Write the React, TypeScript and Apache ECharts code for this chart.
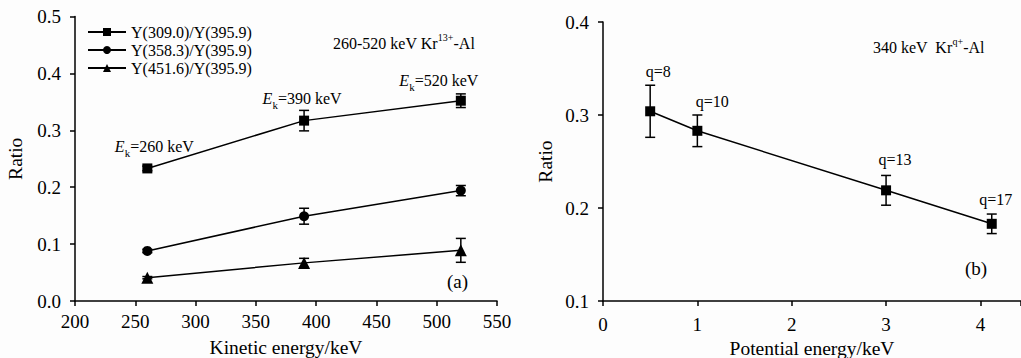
import React, { useEffect, useRef } from "react";
import * as echarts from "echarts";

// ---- Panel (a): ratio vs kinetic energy ----
const kineticEnergies = [260, 390, 520];
const ratio309 = [0.233, 0.317, 0.352];
const ratio309Err = [0.004, 0.018, 0.012];
const ratio358 = [0.088, 0.149, 0.194];
const ratio358Err = [0.003, 0.014, 0.009];
const ratio451 = [0.041, 0.067, 0.089];
const ratio451Err = [0.002, 0.008, 0.021];
const seriesNamesA = ["Y(309.0)/Y(395.9)", "Y(358.3)/Y(395.9)", "Y(451.6)/Y(395.9)"];
const ekLabels = ["260 keV", "390 keV", "520 keV"];

// ---- Panel (b): ratio vs potential energy ----
const potentialEnergies = [0.5, 1.0, 3.0, 4.12];
const ratioQ = [0.304, 0.283, 0.219, 0.183];
const ratioQErr = [0.028, 0.017, 0.016, 0.0105];
const qLabels = ["q=8", "q=10", "q=13", "q=17"];

const FONT = "Liberation Serif";
const BLACK = "#000";

function errRender(params: any, api: any) {
  const x = api.value(0);
  const y = api.value(1);
  const e = api.value(2);
  const top = api.coord([x, y + e]);
  const bot = api.coord([x, y - e]);
  const w = 5;
  const st = { stroke: BLACK, lineWidth: 1.5 };
  return {
    type: "group",
    children: [
      { type: "line", shape: { x1: top[0], y1: top[1], x2: bot[0], y2: bot[1] }, style: st },
      { type: "line", shape: { x1: top[0] - w, y1: top[1], x2: top[0] + w, y2: top[1] }, style: st },
      { type: "line", shape: { x1: bot[0] - w, y1: bot[1], x2: bot[0] + w, y2: bot[1] }, style: st },
    ],
  };
}

const axisCommon = {
  axisLine: { onZero: false, lineStyle: { color: BLACK, width: 1.5 } },
  axisTick: { show: true, inside: false, length: 5, lineStyle: { color: BLACK, width: 1.5 } },
  splitLine: { show: false },
  nameTextStyle: { color: BLACK, fontFamily: FONT, fontSize: 19.5 },
};

const labelCommon = { color: BLACK, fontFamily: FONT, fontSize: 19 };

const richText = {
  i: { fontStyle: "italic", fontFamily: FONT, fontSize: 16, color: BLACK, lineHeight: 24 },
  sub: { fontFamily: FONT, fontSize: 11, color: BLACK, verticalAlign: "bottom", lineHeight: 24 },
  n: { fontFamily: FONT, fontSize: 16, color: BLACK, lineHeight: 24 },
  sup: { fontFamily: FONT, fontSize: 10, color: BLACK, verticalAlign: "top", lineHeight: 22 },
  m: { fontFamily: FONT, fontSize: 16, color: BLACK, lineHeight: 22 },
};

const ekOffsets = [
  [7, -22],
  [-2, -22],
  [-22, -20],
];
const qOffsets = [
  [8, -40],
  [15, -29],
  [9, -31],
  [4, -24],
];

function lineSeries(name: string, xs: number[], ys: number[], symbol: string, size: number, xi: number) {
  return {
    type: "line",
    name,
    xAxisIndex: xi,
    yAxisIndex: xi,
    data: xs.map((x, i) => [x, ys[i]]),
    symbol,
    symbolSize: size,
    showAllSymbol: true,
    lineStyle: { color: BLACK, width: 1.5 },
    itemStyle: { color: BLACK, borderWidth: 0 },
    z: 3,
  };
}

function errSeries(name: string, xs: number[], ys: number[], es: number[], xi: number) {
  return {
    type: "custom",
    name,
    xAxisIndex: xi,
    yAxisIndex: xi,
    renderItem: errRender,
    encode: { x: 0, y: 1 },
    data: xs.map((x, i) => [x, ys[i], es[i]]),
    z: 2,
  };
}

export default function App() {
  const ref = useRef<HTMLDivElement>(null);
  useEffect(() => {
    document.body.style.margin = "0";
    if (!ref.current) return;
    const chart = echarts.init(ref.current, null, { renderer: "svg" });

    const s1 = lineSeries(seriesNamesA[0], kineticEnergies, ratio309, "rect", 10, 0) as any;
    s1.data = kineticEnergies.map((x, i) => ({
      value: [x, ratio309[i]],
      label: {
        show: true,
        position: "inside",
        offset: ekOffsets[i],
        formatter: `{i|E}{sub|k}{n|=${ekLabels[i]}}`,
        rich: richText,
      },
    }));

    const sQ = lineSeries("q", potentialEnergies, ratioQ, "rect", 10, 1) as any;
    sQ.data = potentialEnergies.map((x, i) => ({
      value: [x, ratioQ[i]],
      label: {
        show: true,
        position: "inside",
        offset: qOffsets[i],
        formatter: qLabels[i],
        color: BLACK,
        fontFamily: FONT,
        fontSize: 16,
      },
    }));

    chart.setOption({
      animation: false,
      backgroundColor: "#fdfdfd",
      textStyle: { fontFamily: FONT },
      grid: [
        { left: 75, top: 16.5, width: 422, height: 284.5, containLabel: false, outerBoundsMode: "none" },
        { left: 603, top: 22, width: 418, height: 279, containLabel: false, outerBoundsMode: "none" },
      ],
      xAxis: [
        {
          ...axisCommon,
          gridIndex: 0,
          type: "value",
          min: 200,
          max: 550,
          interval: 50,
          name: "Kinetic energy/keV",
          nameLocation: "middle",
          nameGap: 36,
          axisLabel: { ...labelCommon, margin: 11 },
        },
        {
          ...axisCommon,
          gridIndex: 1,
          type: "value",
          min: 0,
          max: 4.43,
          interval: 1,
          name: "Potential energy/keV",
          nameLocation: "middle",
          nameGap: 35,
          axisLabel: {
            ...labelCommon,
            margin: 14,
            formatter: (v: number) => (Math.abs(v - Math.round(v)) < 1e-6 ? String(Math.round(v)) : ""),
          },
        },
      ],
      yAxis: [
        {
          ...axisCommon,
          gridIndex: 0,
          type: "value",
          min: 0,
          max: 0.5,
          interval: 0.1,
          name: "Ratio",
          nameLocation: "middle",
          nameGap: 50,
          axisLabel: { ...labelCommon, margin: 14, formatter: (v: number) => v.toFixed(1) },
        },
        {
          ...axisCommon,
          gridIndex: 1,
          type: "value",
          min: 0.1,
          max: 0.4,
          interval: 0.1,
          name: "Ratio",
          nameLocation: "middle",
          nameGap: 48,
          axisLabel: { ...labelCommon, margin: 14, formatter: (v: number) => v.toFixed(1) },
        },
      ],
      legend: {
        data: seriesNamesA,
        orient: "vertical",
        left: 82,
        top: 18,
        itemWidth: 38,
        itemHeight: 10,
        itemGap: 0,
        textStyle: { color: BLACK, fontFamily: FONT, fontSize: 16, lineHeight: 18 },
        selectedMode: false,
      },
      series: [
        errSeries("e1", kineticEnergies, ratio309, ratio309Err, 0),
        errSeries("e2", kineticEnergies, ratio358, ratio358Err, 0),
        errSeries("e3", kineticEnergies, ratio451, ratio451Err, 0),
        s1,
        lineSeries(seriesNamesA[1], kineticEnergies, ratio358, "circle", 10, 0),
        lineSeries(seriesNamesA[2], kineticEnergies, ratio451, "triangle", 12, 0),
        errSeries("eq", potentialEnergies, ratioQ, ratioQErr, 1),
        sQ,
      ],
      graphic: [
        {
          type: "text",
          left: 333,
          top: 32,
          style: {
            text: "{m|260-520 keV Kr}{sup|13+}{m|-Al}",
            rich: richText,
          },
        },
        {
          type: "text",
          left: 873,
          top: 36,
          style: {
            text: "{m|340 keV  Kr}{sup|q+}{m|-Al}",
            rich: richText,
          },
        },
        {
          type: "text",
          left: 447,
          top: 272,
          style: { text: "(a)", fill: BLACK, font: `19px "${FONT}"` },
        },
        {
          type: "text",
          left: 965,
          top: 259,
          style: { text: "(b)", fill: BLACK, font: `19px "${FONT}"` },
        },
      ],
    });
    return () => chart.dispose();
  }, []);
  return <div ref={ref} style={{ width: 1021, height: 358 }} />;
}
